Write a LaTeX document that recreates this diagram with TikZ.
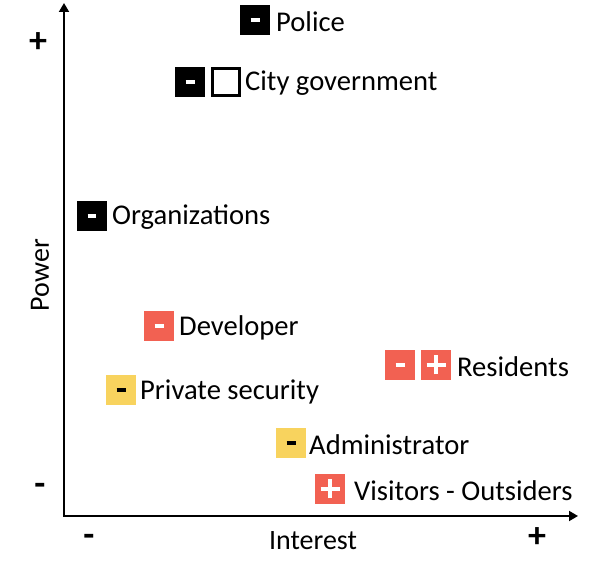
\documentclass[tikz,border=0pt]{standalone}
\usepackage{fontspec}
\setmainfont{Carlito}
\usetikzlibrary{arrows.meta,positioning}

\definecolor{markred}{HTML}{F26152}
\definecolor{markyellow}{HTML}{F8D35E}

\newcommand{\minusbar}{\rule[-2.2pt]{9pt}{4.4pt}}
\newcommand{\plusbar}{\makebox[0pt]{\rule[-2.4pt]{19pt}{4.8pt}}\makebox[0pt]{\rule[-9.5pt]{4.8pt}{19pt}}}

\begin{document}
\begin{tikzpicture}[
  x=1pt,y=-1pt,
  stakebox/.style={
    minimum size=30pt,
    inner sep=0pt,
    outer sep=0pt
  },
  black box/.style={stakebox,fill=black,text=white},
  red box/.style={stakebox,fill=markred,text=white},
  yellow box/.style={stakebox,fill=markyellow,text=black},
  open box/.style={stakebox,draw=black,line width=2.6pt,fill=white,minimum size=27.4pt},
  stakelabel/.style={
    font=\fontsize{28.6}{33}\selectfont,
    inner sep=0pt,
    anchor=west,
    yshift=-1.5pt
  },
  axis title/.style={font=\fontsize{28}{33}\selectfont},
  sign/.style={font=\fontsize{36}{40}\selectfont\bfseries},
  axis/.style={{Triangle[length=9pt,width=10pt]}-{Triangle[length=9pt,width=10pt]},line width=1.8pt}
]
  \useasboundingbox (0,0) rectangle (598,561);

  % axes
  \coordinate (origin) at (64,516);
  \coordinate (power-end) at (64,3);
  \coordinate (interest-end) at (578,516);
  \draw[axis] (power-end)--(origin)--(interest-end);

  \node[sign] (power-high) at (38,43) {+};
  \node[sign] (power-low) at (40,489) {-};
  \node[sign] (interest-low) at (89,540) {-};
  \node[sign] (interest-high) at (537,538) {+};
  \node[axis title] (interest) at (313,541) {Interest};
  \node[axis title,rotate=90] (power) at (40,275) {Power};

  % stakeholders
  \node[black box] (police-box) at (255,20) {\minusbar};
  \node[stakelabel,right=6pt of police-box] (police) {Police};

  \node[black box] (city-box) at (190,82) {\minusbar};
  \node[open box,right=7.3pt of city-box] (city-open) {};
  \node[stakelabel,right=5.3pt of city-open] (city) {City government};

  \node[black box] (organizations-box) at (92,216) {\minusbar};
  \node[stakelabel,right=5pt of organizations-box] (organizations) {Organizations};

  \node[red box] (developer-box) at (159,326) {\minusbar};
  \node[stakelabel,right=5pt of developer-box] (developer) {Developer};

  \node[red box] (residents-minus) at (400,365) {\minusbar};
  \node[red box,right=6pt of residents-minus] (residents-plus) {\plusbar};
  \node[stakelabel,right=6pt of residents-plus] (residents) {Residents};

  \node[yellow box] (security-box) at (121,390) {\minusbar};
  \node[stakelabel,right=4pt of security-box] (security) {Private security};

  \node[yellow box] (administrator-box) at (291,443) {\minusbar};
  \node[stakelabel,right=3pt of administrator-box] (administrator) {Administrator};

  \node[red box] (visitors-box) at (330,489) {\plusbar};
  \node[stakelabel,right=9pt of visitors-box] (visitors) {Visitors - Outsiders};
\end{tikzpicture}
\end{document}
